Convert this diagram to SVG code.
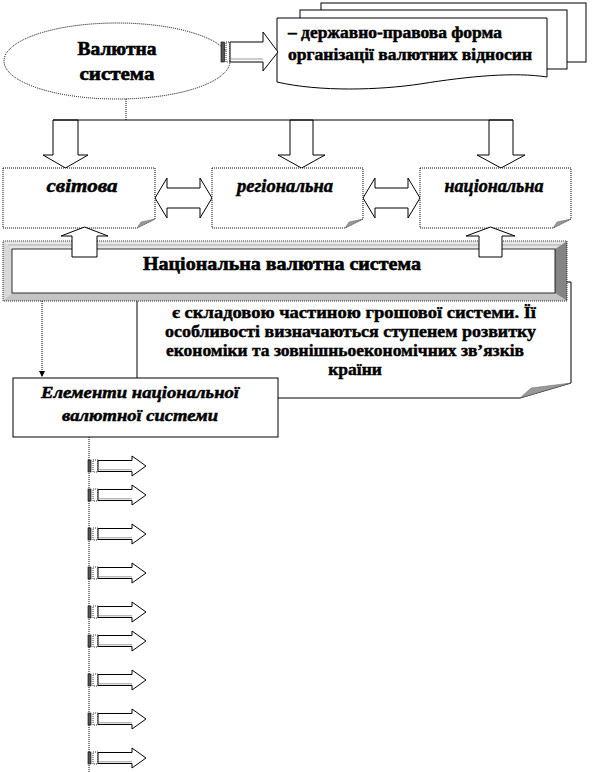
<svg xmlns="http://www.w3.org/2000/svg" width="593" height="772" viewBox="0 0 593 772">
<style>
.sh{fill:#fff;stroke:#000;stroke-width:1}
.dot{stroke-dasharray:1 1}
.ln{fill:none;stroke:#000;stroke-width:1}
</style>
<defs>
<g id="sa">
<rect x="0" y="-6" width="3" height="12" fill="#555" stroke="#000" stroke-width="0.6"/>
<rect x="5" y="-6" width="5" height="12" fill="#fff" stroke="#000" stroke-width="0.8" stroke-dasharray="1 1"/>
<polygon points="10,-5.5 44,-5.5 44,-10 58,0 44,10 44,5.5 10,5.5" class="sh"/>
<line x1="11" y1="3.8" x2="44" y2="3.8" stroke="#999" stroke-width="1"/>
</g>
<marker id="ah" markerWidth="8" markerHeight="8" refX="6" refY="3" orient="auto" markerUnits="userSpaceOnUse">
<path d="M0,0 L6,3 L0,6 Z" fill="#000"/>
</marker>
</defs>

<g id="multidoc">
<rect x="321" y="3" width="265" height="59" class="sh"/>
<rect x="300" y="10" width="267" height="59" class="sh"/>
<path d="M277,18 H547 V77 C515,72 470,76 420,84 C380,90 320,92 277,82 Z" class="sh"/>
<text x="288" y="38" font-family="Liberation Serif, serif" font-weight="bold" font-size="17" stroke="#000" stroke-width="0.5" textLength="214" lengthAdjust="spacingAndGlyphs">– державно-правова форма</text>
<text x="288" y="60" font-family="Liberation Serif, serif" font-weight="bold" font-size="17" stroke="#000" stroke-width="0.5" textLength="244" lengthAdjust="spacingAndGlyphs">організації валютних відносин</text>
</g>

<g id="valsys">
<ellipse cx="117" cy="61" rx="113" ry="38" class="sh dot"/>
<text x="117" y="55" font-family="Liberation Serif, serif" font-weight="bold" font-size="19" stroke="#000" stroke-width="0.6" text-anchor="middle" textLength="79" lengthAdjust="spacingAndGlyphs">Валютна</text>
<text x="117" y="80" font-family="Liberation Serif, serif" font-weight="bold" font-size="19" stroke="#000" stroke-width="0.6" text-anchor="middle" textLength="75" lengthAdjust="spacingAndGlyphs">система</text>
</g>

<g id="connectors">
<rect x="221" y="42" width="3.5" height="20" fill="#555" stroke="#000" stroke-width="0.6"/>
<rect x="226" y="42" width="4" height="20" fill="#fff" stroke="#000" stroke-width="0.8" stroke-dasharray="1 1"/>
<polygon points="230,42 263,42 263,32 278,52 263,71 263,62 230,62" class="sh"/>
<line x1="231" y1="59" x2="263" y2="59" stroke="#999"/>
<line x1="126" y1="99" x2="126" y2="120" class="ln dot"/>
<polygon points="53,120 53,155 43,155 65.5,168 88,155 78,155 78,120" class="sh"/>
<polygon points="290,120 290,155 278,155 301.5,168 325,155 313,155 313,120" class="sh"/>
<polygon points="489,120 489,155 477,155 501,168 525,155 513,155 513,120" class="sh"/>
<line x1="53" y1="120" x2="513" y2="120" class="ln"/>
<polygon points="155,198 167,178 167,188 200,188 200,178 212,198 200,218 200,208 167,208 167,218" class="sh"/>
<polygon points="363,198 375,178 375,188 408,188 408,178 420,198 408,218 408,208 375,208 375,218" class="sh"/>
</g>

<g id="svitova">
<path d="M3,168 H155 V219 L137,228 H3 Z" class="sh dot"/>
<polygon points="137,228 155,219 141,222" fill="#999" stroke="#666" stroke-width="0.5"/>
<text x="82" y="192" font-family="Liberation Serif, serif" font-weight="bold" font-style="italic" font-size="19" stroke="#000" stroke-width="0.5" text-anchor="middle" textLength="71" lengthAdjust="spacingAndGlyphs">світова</text>
</g>
<g id="regionalna">
<path d="M212,168 H363 V219 L345,228 H212 Z" class="sh dot"/>
<polygon points="345,228 363,219 349,222" fill="#999" stroke="#666" stroke-width="0.5"/>
<text x="285" y="192" font-family="Liberation Serif, serif" font-weight="bold" font-style="italic" font-size="19" stroke="#000" stroke-width="0.5" text-anchor="middle" textLength="96" lengthAdjust="spacingAndGlyphs">регіональна</text>
</g>
<g id="natsionalna">
<path d="M420,168 H571 V219 L553,228 H420 Z" class="sh dot"/>
<polygon points="553,228 571,219 557,222" fill="#999" stroke="#666" stroke-width="0.5"/>
<text x="494" y="192" font-family="Liberation Serif, serif" font-weight="bold" font-style="italic" font-size="19" stroke="#000" stroke-width="0.5" text-anchor="middle" textLength="99" lengthAdjust="spacingAndGlyphs">національна</text>
</g>

<g id="note">
<path d="M137,282 H571 V383 L520,398 H137 Z" class="sh"/>
<polygon points="520,398 571,383 531,388" fill="#999" stroke="#666" stroke-width="0.5"/>
<text x="172" y="318" font-family="Liberation Serif, serif" font-weight="bold" font-size="17.5" stroke="#000" stroke-width="0.45" textLength="364" lengthAdjust="spacingAndGlyphs">є складовою частиною грошової системи. Її</text>
<text x="165" y="337" font-family="Liberation Serif, serif" font-weight="bold" font-size="17.5" stroke="#000" stroke-width="0.45" textLength="371" lengthAdjust="spacingAndGlyphs">особливості визначаються ступенем розвитку</text>
<text x="166" y="356" font-family="Liberation Serif, serif" font-weight="bold" font-size="17.5" stroke="#000" stroke-width="0.45" textLength="358" lengthAdjust="spacingAndGlyphs">економіки та зовнішньоекономічних зв’язків</text>
<text x="355" y="375" font-family="Liberation Serif, serif" font-weight="bold" font-size="17.5" stroke="#000" stroke-width="0.45" text-anchor="middle">країни</text>
</g>

<g id="nvs">
<polygon points="3,241 567,241 555,249 12,249" fill="#e6e6e6"/>
<polygon points="3,241 12,249 12,293 3,301" fill="#d8d8d8"/>
<polygon points="3,301 12,293 555,293 567,301" fill="#c4c4c4"/>
<polygon points="567,241 555,249 555,293 567,301" fill="#858585"/>
<line x1="8" y1="245" x2="561" y2="245" stroke="#aaa"/>
<rect x="12" y="249" width="543" height="44" fill="#fff" stroke="#000" stroke-width="0.8"/>
<rect x="3" y="241" width="564" height="60" fill="none" stroke="#000" stroke-width="0.8" stroke-dasharray="1 1"/>
<text x="143" y="270" font-family="Liberation Serif, serif" font-weight="bold" font-size="19" stroke="#000" stroke-width="0.6" textLength="278" lengthAdjust="spacingAndGlyphs">Національна валютна система</text>
</g>

<g id="uparrows">
<polygon points="72,257 72,236 61,236 84.5,227 108,236 97,236 97,257" class="sh"/>
<polygon points="479,257 479,236 466,236 490.5,227 515,236 502,236 502,257" class="sh"/>
</g>

<g id="connectors2">
<line x1="42" y1="301" x2="42" y2="377" class="ln dot" marker-end="url(#ah)"/>
<line x1="89" y1="437" x2="89" y2="772" class="ln dot"/>
</g>

<g id="elementy">
<rect x="13" y="378" width="265" height="59" class="sh"/>
<text x="140" y="398" font-family="Liberation Serif, serif" font-weight="bold" font-style="italic" font-size="17" stroke="#000" stroke-width="0.5" text-anchor="middle" textLength="198" lengthAdjust="spacingAndGlyphs">Елементи національної</text>
<text x="140" y="421" font-family="Liberation Serif, serif" font-weight="bold" font-style="italic" font-size="17" stroke="#000" stroke-width="0.5" text-anchor="middle" textLength="156" lengthAdjust="spacingAndGlyphs">валютної системи</text>
</g>

<g id="items">
<use href="#sa" x="88" y="466"/>
<use href="#sa" x="88" y="495"/>
<use href="#sa" x="88" y="534"/>
<use href="#sa" x="88" y="573"/>
<use href="#sa" x="88" y="612"/>
<use href="#sa" x="88" y="641"/>
<use href="#sa" x="88" y="680"/>
<use href="#sa" x="88" y="719"/>
<use href="#sa" x="88" y="758"/>
</g>
</svg>
